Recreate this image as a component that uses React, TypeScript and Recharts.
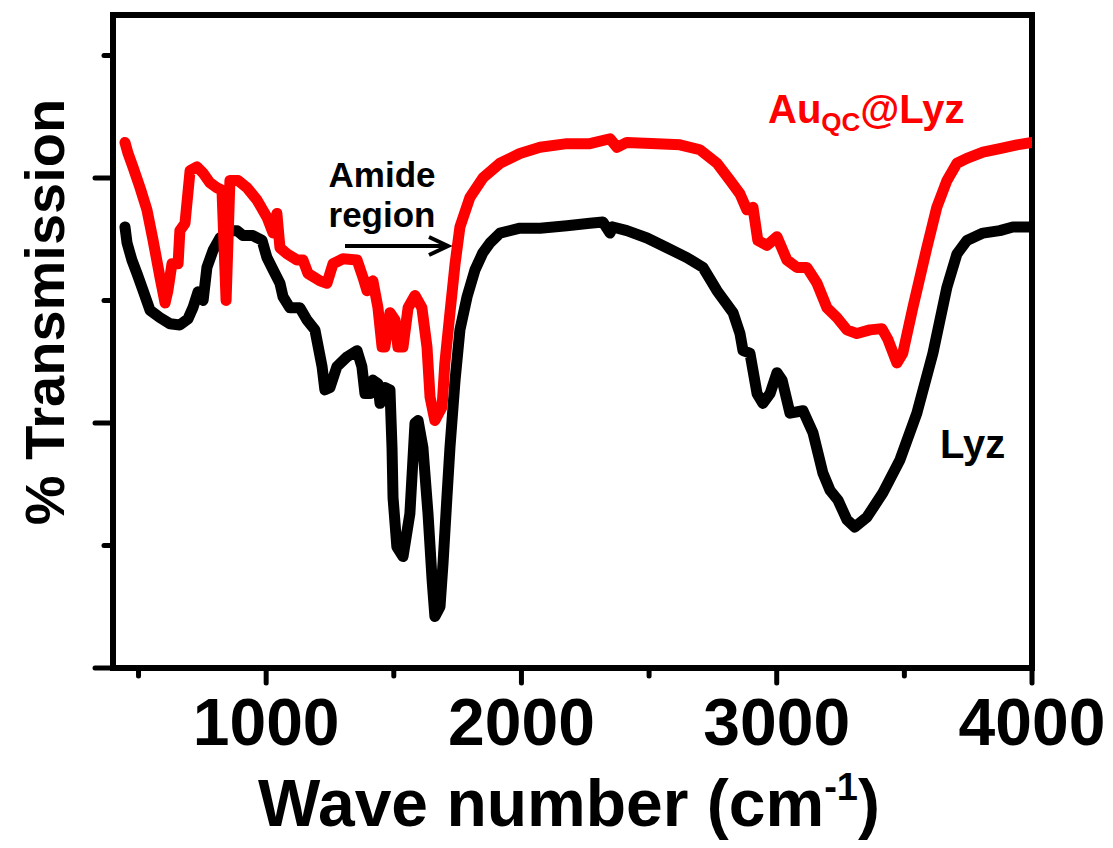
import { Line, LineChart, ReferenceLine, XAxis, YAxis } from "recharts";

// FTIR spectra, wave number (cm-1) vs % transmission (arbitrary offset units)
const lyzWave = [
  447, 455, 474, 494, 518, 545, 584, 623, 662, 694, 713, 733, 753, 768, 792, 819, 858, 886, 909, 948,
  984, 1003, 1027, 1054, 1066, 1093, 1132, 1160, 1191, 1219, 1230, 1250, 1277, 1317, 1356, 1375, 1387,
  1407, 1418, 1438, 1446, 1465, 1485, 1493, 1497, 1512, 1536, 1563, 1583, 1595, 1614, 1634, 1650, 1661,
  1681, 1693, 1708, 1720, 1740, 1759, 1787, 1818, 1849, 1877, 1916, 1994, 2073, 2178, 2268, 2319, 2347,
  2358, 2413, 2492, 2570, 2648, 2711, 2766, 2829, 2856, 2868, 2895, 2923, 2946, 2974, 3001, 3021, 3052,
  3103, 3142, 3181, 3209, 3240, 3275, 3306, 3353, 3416, 3483, 3549, 3612, 3667, 3706, 3745, 3808, 3874,
  3925, 3995
];
const lyzTrans = [
  36.0, 34.7, 33.3, 32.2, 30.8, 29.2, 28.6, 28.1, 28.0, 28.5, 29.4, 30.7, 30.0, 32.7, 34.1, 35.1, 35.7, 35.7, 35.3, 35.3,
  34.9, 33.5, 32.5, 31.4, 30.3, 29.4, 29.4, 28.4, 27.6, 24.6, 22.7, 22.9, 24.6, 25.4, 25.9, 24.6, 22.4,
  22.4, 23.5, 23.2, 21.6, 22.9, 22.7, 18.0, 13.9, 9.9, 9.1, 12.6, 20.0, 20.2, 18.0, 12.6, 7.2, 4.2,
  5.0, 8.6, 13.9, 18.0, 23.5, 27.6, 30.3, 32.5, 33.9, 34.7, 35.5, 35.9, 35.9, 36.1, 36.3, 36.4, 35.5,
  36.0, 35.7, 35.1, 34.3, 33.5, 32.7, 30.8, 29.0, 27.3, 25.9, 25.7, 22.4, 21.6, 22.4, 24.1, 23.5, 20.8,
  21.0, 19.2, 15.9, 14.5, 13.7, 12.1, 11.5, 12.3, 14.3, 17.0, 20.8, 25.7, 31.1, 33.8, 34.9, 35.5, 35.7,
  36.0, 36.0
];

const auqcWave = [
  447, 459, 478, 506, 533, 557, 584, 604, 615, 631, 655, 662, 682, 702, 729, 753, 780, 807, 827, 843,
  858, 890, 925, 964, 1003, 1027, 1042, 1054, 1082, 1121, 1144, 1164, 1211, 1238, 1262, 1301, 1356,
  1379, 1395, 1418, 1438, 1454, 1465, 1485, 1505, 1516, 1536, 1556, 1583, 1610, 1630, 1642, 1661, 1689,
  1700, 1720, 1740, 1759, 1798, 1849, 1916, 1994, 2073, 2178, 2268, 2347, 2374, 2413, 2531,
  2621, 2699, 2766, 2817, 2856, 2883, 2907, 2926, 2962, 3001, 3040, 3079, 3118, 3158, 3197, 3236, 3275,
  3314, 3365, 3412, 3436, 3471, 3494, 3533, 3588, 3627, 3667, 3706, 3745, 3808, 3874, 3941, 4000
];
const auqcTrans = [
  42.9, 42.0, 40.9, 39.2, 37.4, 34.9, 31.9, 29.8, 30.8, 33.0, 33.0, 35.7, 36.3, 40.6, 40.9, 40.4, 39.6, 39.2, 39.0, 30.0,
  39.8, 39.8, 39.2, 38.2, 36.8, 35.5, 37.1, 34.3, 33.8, 33.3, 33.3, 32.2, 31.6, 31.4, 33.0, 33.4, 33.3,
  31.9, 30.8, 31.6, 29.4, 26.2, 26.2, 29.0, 28.4, 26.2, 26.2, 29.4, 30.4, 29.4, 26.2, 22.1, 20.2, 21.3,
  24.9, 29.0, 33.0, 36.0, 38.4, 40.0, 41.2, 42.0, 42.5, 42.8, 42.8, 43.2, 42.5, 42.9, 42.8,
  42.7, 42.3, 41.2, 39.8, 38.7, 37.4, 37.6, 34.9, 34.5, 35.2, 33.3, 32.7, 32.7, 31.4, 29.4, 28.6, 27.6,
  27.3, 27.6, 27.7, 26.8, 24.9, 25.7, 29.4, 34.3, 37.6, 39.8, 41.2, 41.6, 42.1, 42.4, 42.7, 42.9
];

const xTicks = [500, 1000, 1500, 2000, 2500, 3000, 3500, 4000];
const yTicks = [0, 10, 20, 30, 40, 50];
const xMin = 400;
const xMax = 4000;
const yMax = 53.3;

const lyzData = lyzWave.map((wn, i) => ({ wn, t: lyzTrans[i] }));
const auqcData = auqcWave.map((wn, i) => ({ wn, t: auqcTrans[i] }));

const FONT = '"Liberation Sans", Arial, Helvetica, sans-serif';

function XTick(props: any) {
  const { x, y, payload } = props;
  const major = payload.value % 1000 === 0;
  return (
    <g>
      <line x1={x} y1={y} x2={x} y2={y + (major ? 15 : 8)} stroke="#000" strokeWidth={5} strokeLinecap="round" />
      {major && (
        <text x={x} y={y + 77} textAnchor="middle" fontFamily={FONT} fontWeight="bold" fontSize={66} fill="#000">
          {payload.value}
        </text>
      )}
    </g>
  );
}

function YTick(props: any) {
  const { x, y, payload } = props;
  const major = payload.value % 20 === 0;
  return <line x1={x} y1={y} x2={x - (major ? 18 : 9)} y2={y} stroke="#000" strokeWidth={5} strokeLinecap="round" />;
}

const spine = { stroke: "#000", strokeWidth: 6, strokeLinecap: "square" as const };

export default function App() {
  return (
    <div style={{ position: "absolute", left: 0, top: 0, width: 1113, height: 848, background: "#fff" }}>
      <LineChart width={1113} height={848} margin={{ top: 15, right: 81, left: 0, bottom: 0 }}>
        <XAxis
          dataKey="wn"
          type="number"
          domain={[xMin, xMax]}
          ticks={xTicks}
          interval={0}
          height={180}
          tickSize={0}
          tickMargin={0}
          tickLine={false}
          axisLine={spine}
          tick={<XTick />}
          allowDataOverflow
        />
        <YAxis
          type="number"
          domain={[0, yMax]}
          ticks={yTicks}
          interval={0}
          width={113}
          tickSize={0}
          tickMargin={0}
          tickLine={false}
          axisLine={spine}
          tick={<YTick />}
          allowDataOverflow
        />
        <ReferenceLine y={yMax} stroke="#000" strokeWidth={6} strokeLinecap="square" />
        <ReferenceLine x={xMax} stroke="#000" strokeWidth={6} strokeLinecap="square" />
        <Line
          data={lyzData}
          dataKey="t"
          type="linear"
          stroke="#000"
          strokeWidth={11}
          strokeLinejoin="round"
          strokeLinecap="round"
          dot={false}
          activeDot={false}
          isAnimationActive={false}
        />
        <Line
          data={auqcData}
          dataKey="t"
          type="linear"
          stroke="#ff0000"
          strokeWidth={11}
          strokeLinejoin="round"
          strokeLinecap="round"
          dot={false}
          activeDot={false}
          isAnimationActive={false}
        />
      </LineChart>

      <svg width={1113} height={848} style={{ position: "absolute", left: 0, top: 0, pointerEvents: "none" }}>
        <g fontFamily={FONT} fontWeight="bold">
          <text x={382} y={187} textAnchor="middle" fontSize={35} fill="#000">Amide</text>
          <text x={382} y={227} textAnchor="middle" fontSize={35} fill="#000">region</text>
          <line x1={345} y1={246} x2={447} y2={246} stroke="#000" strokeWidth={4} />
          <polyline points="429,237 448,246 429,255" fill="none" stroke="#000" strokeWidth={4} strokeLinejoin="miter" />

          <text x={768} y={123} fontSize={40} fill="#ff0000">
            Au
            <tspan fontSize={26} dy={8}>QC</tspan>
            <tspan dy={-8}>@Lyz</tspan>
          </text>
          <text x={940} y={458} fontSize={40} fill="#000">Lyz</text>

          <text x={569} y={826} textAnchor="middle" fontSize={66} fill="#000">
            Wave number (cm
            <tspan fontSize={38} dy={-26}>-1</tspan>
            <tspan dy={26}>)</tspan>
          </text>
          <text
            x={0}
            y={0}
            transform="translate(64 312) rotate(-90)"
            textAnchor="middle"
            fontSize={56}
            fill="#000"
          >
            % Transmission
          </text>
        </g>
      </svg>
    </div>
  );
}
